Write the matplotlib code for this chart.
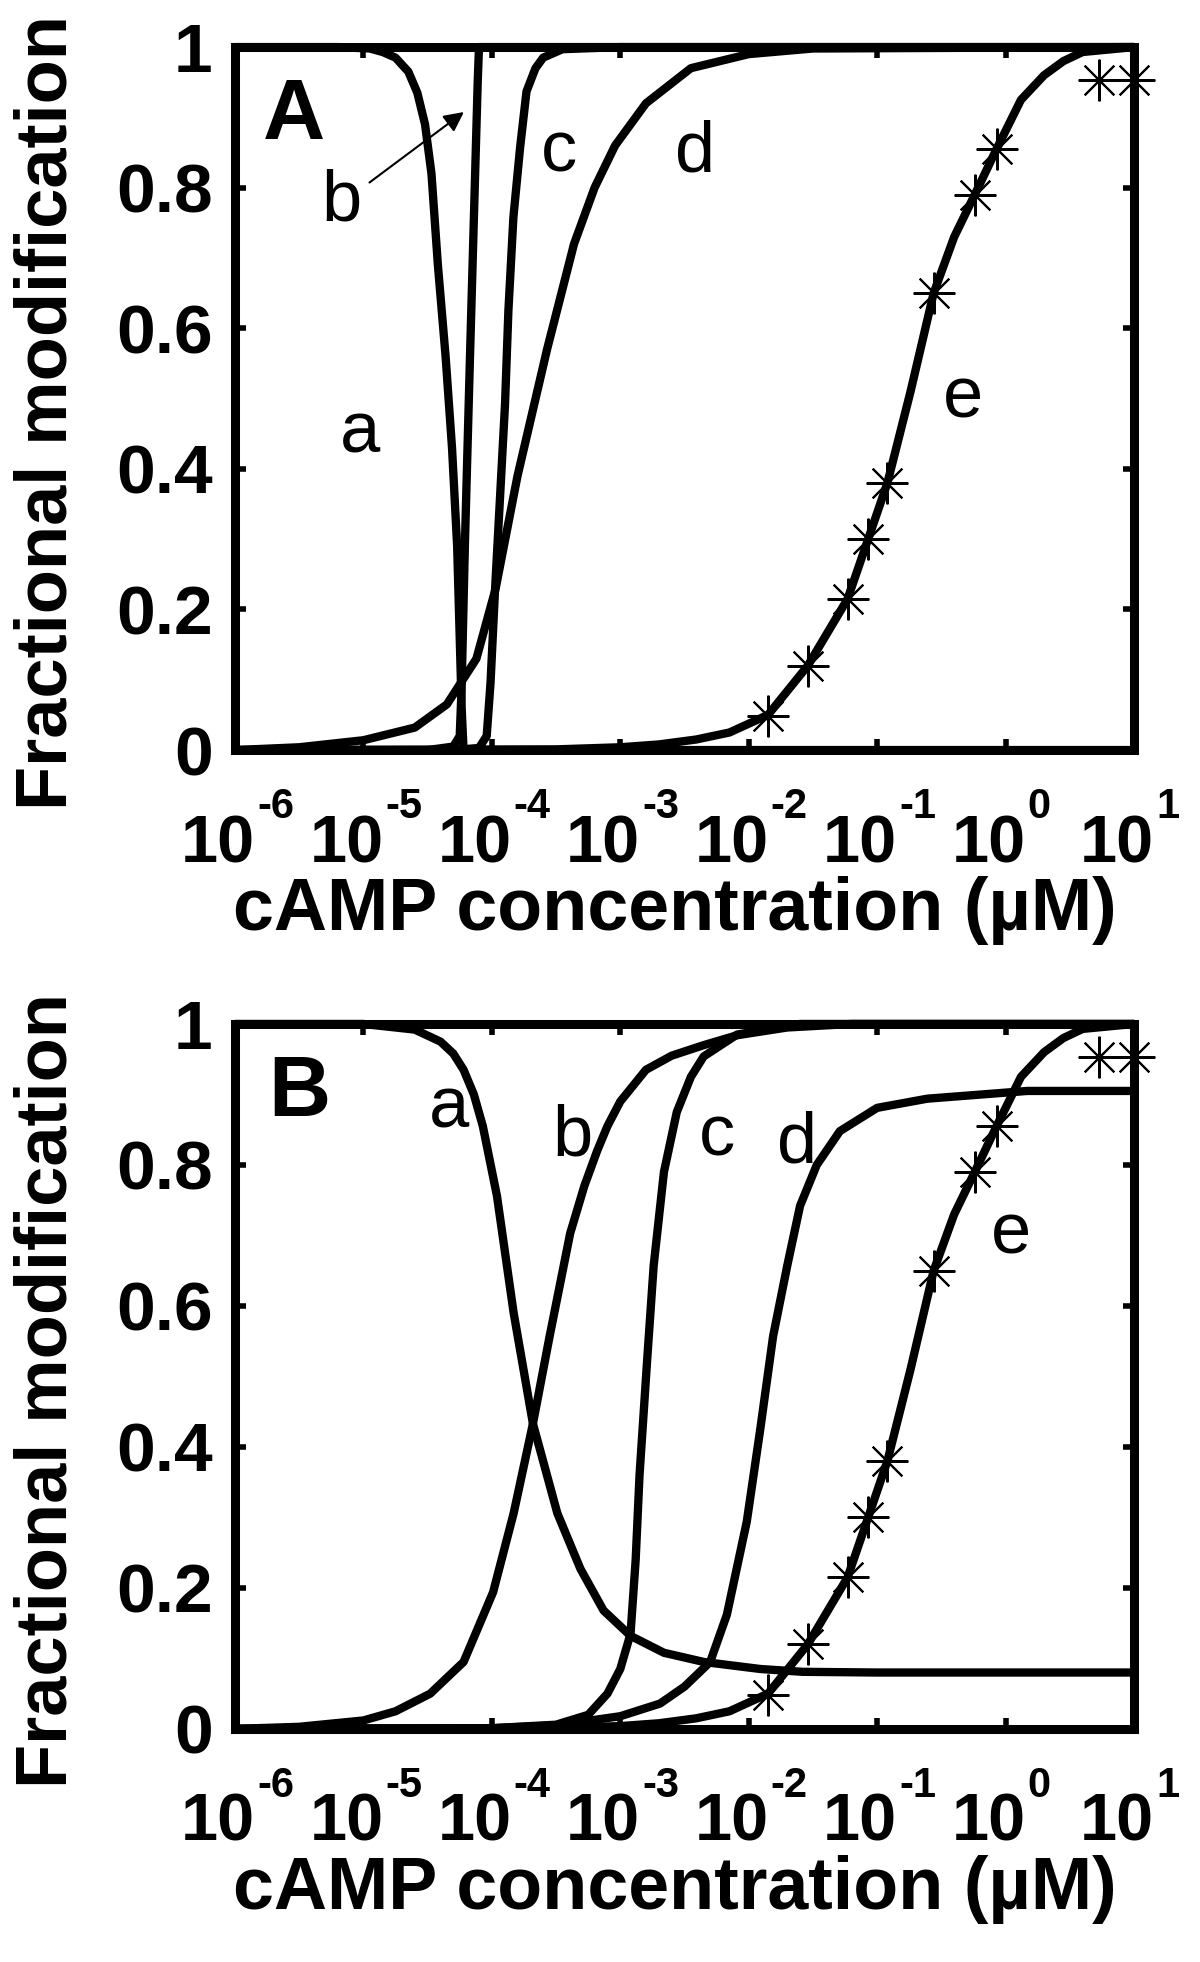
import numpy as np
import matplotlib
matplotlib.use("Agg")
import matplotlib.pyplot as plt
from matplotlib import font_manager
from matplotlib import transforms as mtransforms

# values: x as log10 of cAMP (uM), y as fractional modification
# panel A
aA_logx = [-6.0, -5.2, -4.95, -4.85, -4.75, -4.65, -4.58, -4.52, -4.47, -4.42, -4.36, -4.31, -4.27, -4.25, -4.235, -4.22, -3.0, 1.0]
aA_y = [1.0, 1.0, 0.998, 0.993, 0.985, 0.965, 0.935, 0.89, 0.82, 0.69, 0.56, 0.43, 0.29, 0.16, 0.06, 0.0, 0.0, 0.0]
bA_logx = [-6.0, -4.5, -4.3, -4.25, -4.235, -4.21, -4.17, -4.13, -4.11, -4.1, -3.5, 1.0]
bA_y = [0.0, 0.0, 0.005, 0.02, 0.09, 0.29, 0.56, 0.82, 0.95, 1.0, 1.0, 1.0]
cA_logx = [-6.0, -4.3, -4.1, -4.04, -4.01, -3.975, -3.936, -3.897, -3.871, -3.832, -3.78, -3.73, -3.66, -3.6, -3.45, -3.0, 1.0]
cA_y = [0.0, 0.0, 0.003, 0.02, 0.096, 0.228, 0.36, 0.493, 0.625, 0.758, 0.857, 0.937, 0.97, 0.985, 0.997, 1.0, 1.0]
dA_logx = [-6.0, -5.5, -5.0, -4.6, -4.35, -4.12, -3.97, -3.8, -3.57, -3.36, -3.2, -3.04, -2.8, -2.45, -2.0, -1.5, 1.0]
dA_y = [0.0, 0.004, 0.014, 0.032, 0.065, 0.13, 0.23, 0.39, 0.57, 0.72, 0.80, 0.86, 0.92, 0.97, 0.99, 0.998, 1.0]

# curve e and the measured points are the same in both panels
e_logx = [-6.0, -3.5, -3.0, -2.7, -2.41, -2.15, -1.85, -1.54, -1.23, -1.07, -0.92, -0.74, -0.56, -0.4, -0.24, -0.07, 0.12, 0.3, 0.45, 0.6, 1.0]
e_y = [0.0, 0.001, 0.004, 0.008, 0.015, 0.025, 0.05, 0.12, 0.215, 0.30, 0.38, 0.51, 0.65, 0.73, 0.79, 0.855, 0.925, 0.96, 0.98, 0.993, 1.0]
data_logx = [-1.85, -1.54, -1.23, -1.07, -0.92, -0.56, -0.24, -0.07, 0.73, 1.0]
data_y = [0.048, 0.12, 0.215, 0.30, 0.38, 0.65, 0.79, 0.855, 0.953, 0.953]

# panel B
aB_logx = [-6.0, -5.0, -4.6, -4.4, -4.3, -4.22, -4.14, -4.07, -3.96, -3.83, -3.68, -3.49, -3.31, -3.13, -2.92, -2.66, -2.35, -1.91, -1.58, -1.0, 1.0]
aB_y = [1.0, 1.0, 0.992, 0.975, 0.958, 0.935, 0.9, 0.855, 0.756, 0.59, 0.433, 0.306, 0.227, 0.168, 0.132, 0.108, 0.095, 0.085, 0.081, 0.08, 0.08]
bB_logx = [-6.0, -5.5, -5.0, -4.75, -4.48, -4.22, -3.99, -3.83, -3.68, -3.55, -3.39, -3.28, -3.18, -3.1, -3.0, -2.8, -2.6, -2.35, -2.09, -1.7, -1.2, 1.0]
bB_y = [0.0, 0.003, 0.012, 0.025, 0.05, 0.095, 0.194, 0.306, 0.433, 0.557, 0.703, 0.77, 0.82, 0.855, 0.89, 0.935, 0.955, 0.97, 0.984, 0.995, 1.0, 1.0]
cB_logx = [-6.0, -4.0, -3.5, -3.25, -3.1, -3.0, -2.92, -2.88, -2.85, -2.79, -2.74, -2.66, -2.56, -2.45, -2.35, -2.09, -1.6, 1.0]
cB_y = [0.0, 0.001, 0.006, 0.02, 0.05, 0.085, 0.135, 0.24, 0.36, 0.525, 0.657, 0.79, 0.875, 0.925, 0.954, 0.985, 1.0, 1.0]
dB_logx = [-6.0, -4.0, -3.5, -3.0, -2.69, -2.5, -2.3, -2.17, -2.015, -1.91, -1.81, -1.7, -1.6, -1.47, -1.29, -1.0, -0.61, 0.17, 1.0]
dB_y = [0.0, 0.001, 0.005, 0.018, 0.036, 0.06, 0.095, 0.162, 0.294, 0.425, 0.557, 0.657, 0.742, 0.80, 0.848, 0.881, 0.894, 0.905, 0.905]

x_exponents = [-6, -5, -4, -3, -2, -1, 0, 1]
y_ticks = [0, 0.2, 0.4, 0.6, 0.8, 1]
y_ticklabels = ["0", "0.2", "0.4", "0.6", "0.8", "1"]

# curve labels: (text, log10 x, y)
labelsA = [("a", -5.03, 0.45), ("b", -5.17, 0.78), ("c", -3.48, 0.85), ("d", -2.42, 0.85), ("e", -0.33, 0.50)]
labelsB = [("a", -4.33, 0.88), ("b", -3.37, 0.84), ("c", -2.25, 0.84), ("d", -1.62, 0.83), ("e", 0.04, 0.70)]

plt.rcParams["font.family"] = ["Liberation Sans", "DejaVu Sans"]
installed = {f.name for f in font_manager.fontManager.ttflist}
if "Liberation Sans Narrow" in installed:
    tickFont = ["Liberation Sans Narrow", "Liberation Sans"]
    tickSize, expSize = 55, 33
else:
    tickFont = ["Liberation Sans", "DejaVu Sans"]
    tickSize, expSize = 48, 30

LW = 6.0


def drawPanel(fig, ax, curves, labels, letter, letterPos):
    for lx, ly in curves:
        ax.plot(10.0 ** np.array(lx), ly, color="black", lw=LW, clip_on=False,
                solid_capstyle="butt", solid_joinstyle="round", zorder=3)
    ax.plot(10.0 ** np.array(data_logx), data_y, linestyle="none", marker=(8, 2, 0),
            markersize=30, mew=1.5, color="black", clip_on=False, zorder=4)
    ax.set_xscale("log")
    ax.set_xlim(1e-6, 10)
    ax.set_ylim(0, 1)
    ax.set_xticks([10.0 ** k for k in x_exponents])
    ax.set_xticklabels([])
    ax.minorticks_off()
    ax.set_yticks(y_ticks)
    ax.set_yticklabels(y_ticklabels, fontweight="bold")
    ax.tick_params(axis="both", direction="in", length=8, width=4, top=True, right=True)
    ax.tick_params(axis="y", pad=16, labelsize=50)
    for s in ax.spines.values():
        s.set_linewidth(6.5)

    # x tick labels drawn as "10" plus a small raised exponent
    base = mtransforms.blended_transform_factory(ax.transData, ax.transAxes)
    mainTr = mtransforms.offset_copy(base, fig=fig, x=20, y=-112, units="dots")
    expTr = mtransforms.offset_copy(base, fig=fig, x=22, y=-68, units="dots")
    for k in x_exponents:
        ax.text(10.0 ** k, 0, "10", transform=mainTr, ha="right", va="baseline",
                fontsize=tickSize, fontweight="bold", family=tickFont, clip_on=False)
        ax.text(10.0 ** k, 0, "-%d" % -k if k < 0 else "%d" % k, transform=expTr,
                ha="left", va="baseline", fontsize=expSize, fontweight="bold",
                family=tickFont, clip_on=False)

    for t, lx, ly in labels:
        ax.text(10.0 ** lx, ly, t, fontsize=52, ha="center", va="center", zorder=5)
    ax.text(10.0 ** letterPos[0], letterPos[1], letter, fontsize=62, fontweight="bold",
            ha="center", va="center", zorder=5)
    ax.text(-0.209, 0.48, "Fractional modification", transform=ax.transAxes, rotation=90,
            fontsize=52, fontweight="bold", ha="center", va="center")
    ax.text(0.489, -0.228, "cAMP concentration (\u00b5M)", transform=ax.transAxes,
            fontsize=53, fontweight="bold", ha="center", va="center")


fig = plt.figure(figsize=(12, 19.62), dpi=100)
axA = fig.add_axes([0.1958, 0.6177, 0.7492, 0.3583])
axB = fig.add_axes([0.1958, 0.1188, 0.7492, 0.3593])

drawPanel(fig, axA, [(aA_logx, aA_y), (bA_logx, bA_y), (cA_logx, cA_y), (dA_logx, dA_y), (e_logx, e_y)],
          labelsA, "A", (-5.54, 0.9))
axA.annotate("", xy=(10.0 ** -4.2, 0.91), xytext=(10.0 ** -4.97, 0.805),
             arrowprops=dict(arrowstyle="-|>", lw=1.5, color="black", mutation_scale=30),
             zorder=5)

drawPanel(fig, axB, [(aB_logx, aB_y), (bB_logx, bB_y), (cB_logx, cB_y), (dB_logx, dB_y), (e_logx, e_y)],
          labelsB, "B", (-5.5, 0.9))

fig.savefig("out.png", dpi=100)
